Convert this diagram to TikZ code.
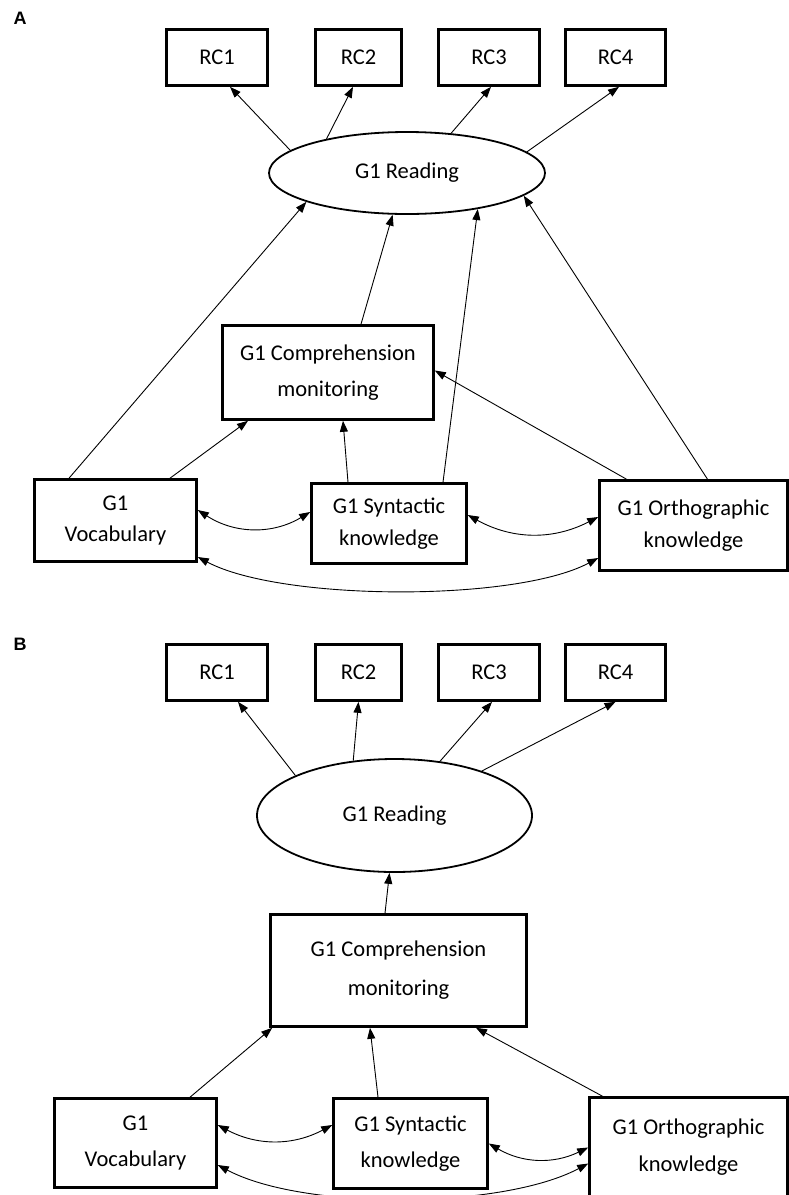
\documentclass[tikz,border=0pt]{standalone}
\usepackage{fontspec}
\setmainfont{Carlito}
\newfontfamily\panelfont{Liberation Sans}
\usetikzlibrary{shapes.geometric, arrows.meta}
\newcommand{\nodefont}{\fontsize{22.5}{32}\selectfont}

\begin{document}
\begin{tikzpicture}[x=1pt, y=-1pt, >={Triangle[length=11pt, width=8pt]},
  box/.style={draw, line width=2.6pt, inner sep=0pt, align=center, font=\nodefont},
  oval/.style={draw, ellipse, line width=1.8pt, inner sep=0pt, font=\nodefont},
  arr/.style={->, line width=0.9pt},
  both/.style={<->, line width=0.9pt},
  panel/.style={font=\panelfont\bfseries\fontsize{18}{18}\selectfont, inner sep=0pt}]
  \useasboundingbox (0,0) rectangle (789,1195);
  \fill [white] (0,0) rectangle (789,1195);
  \clip (0,0) rectangle (789,1195);

  % panel A
  \node[panel] (labA) at (20,18.5) {A};

  \node[box, minimum width=101pt, minimum height=56pt] (rc1a) at (217,57.5) {RC1};
  \node[box, minimum width=86pt, minimum height=56pt] (rc2a) at (358.5,57.5) {RC2};
  \node[box, minimum width=101pt, minimum height=56pt] (rc3a) at (489,57.5) {RC3};
  \node[box, minimum width=100pt, minimum height=56pt] (rc4a) at (615.5,57.5) {RC4};

  \node[oval, minimum width=276pt, minimum height=82pt] (rda) at (407,173) {G1 Reading};

  \node[box, minimum width=211pt, minimum height=94pt] (cma) at (328,372.5)
    {G1 Comprehension\\[4pt]monitoring};
  \node[box, minimum width=162pt, minimum height=82pt] (voca) at (115.5,520.5)
    {G1\\[-1pt]Vocabulary};
  \node[box, minimum width=155pt, minimum height=80pt] (syna) at (389,523.5)
    {G1 Syntactic\\knowledge};
  \node[box, minimum width=188pt, minimum height=90pt] (orta) at (693.5,525.5)
    {G1 Orthographic\\knowledge};

  \draw[arr] (rda.169) -- ([xshift=13pt]rc1a.south);
  \draw[arr] (rda.157) -- ([xshift=-5.5pt]rc2a.south);
  \draw[arr] (rda.42) -- ([xshift=2pt]rc3a.south);
  \draw[arr] (rda.10) -- ([xshift=3.5pt]rc4a.south);

  \draw[arr] ([xshift=-46.5pt]voca.north) -- (rda.196);
  \draw[arr] ([xshift=33pt]cma.north) -- (rda.251);
  \draw[arr] ([xshift=54pt]syna.north) -- (rda.333);
  \draw[arr] ([xshift=14pt]orta.north) -- (rda.349);

  \draw[arr] ([xshift=54.5pt]voca.north) -- ([xshift=-80pt]cma.south);
  \draw[arr] ([xshift=-41pt]syna.north) -- ([xshift=15pt]cma.south);
  \draw[arr] ([xshift=-67pt]orta.north) -- ([yshift=2pt]cma.east);

  \draw[both] ([yshift=10.5pt]voca.east) to[bend right=32] ([yshift=11.5pt]syna.west);
  \draw[both] ([yshift=8.5pt]syna.east) to[bend right=28] ([yshift=8.5pt]orta.west);
  \draw[both] ([yshift=-36.5pt]voca.east) to[out=-28, in=-152, looseness=0.6]
    ([yshift=-32.5pt]orta.west);

  % panel B
  \node[panel] (labB) at (20,644.5) {B};

  \node[box, minimum width=101pt, minimum height=56pt] (rc1b) at (217,672.5) {RC1};
  \node[box, minimum width=86pt, minimum height=56pt] (rc2b) at (358.5,672.5) {RC2};
  \node[box, minimum width=101pt, minimum height=56pt] (rc3b) at (489,672.5) {RC3};
  \node[box, minimum width=100pt, minimum height=56pt] (rc4b) at (615.5,672.5) {RC4};

  \node[oval, minimum width=275pt, minimum height=113pt] (rdb) at (394.5,815.5) {G1 Reading};

  \node[box, minimum width=256pt, minimum height=112pt] (cmb) at (398.5,970.5)
    {G1 Comprehension\\[7pt]monitoring};
  \node[box, minimum width=162pt, minimum height=89pt] (vocb) at (135.5,1143)
    {G1\\[4pt]Vocabulary};
  \node[box, minimum width=154pt, minimum height=90pt] (synb) at (410.5,1143.5)
    {G1 Syntactic\\[4pt]knowledge};
  \node[box, minimum width=198pt, minimum height=100pt] (ortb) at (688.5,1147.5)
    {G1 Orthographic\\[5pt]knowledge};

  \draw[arr] (rdb.158) -- ([xshift=21pt]rc1b.south);
  \draw[arr] (rdb.127) -- (rc2b.south);
  \draw[arr] (rdb.50) -- ([xshift=3pt]rc3b.south);
  \draw[arr] (rdb.27) -- (rc4b.south);

  \draw[arr] ([xshift=-13.5pt]cmb.north) -- (rdb.265);

  \draw[arr] ([xshift=54.5pt]vocb.north) -- ([xshift=3pt]cmb.south west);
  \draw[arr] ([xshift=-32.5pt]synb.north) -- ([xshift=-28.5pt]cmb.south);
  \draw[arr] ([xshift=-86pt]ortb.north) -- ([xshift=77.5pt]cmb.south);

  \draw[both] ([yshift=18pt]vocb.east) to[bend right=28] ([yshift=18.5pt]synb.west);
  \draw[both] (synb.east) to[bend right=28] (ortb.west);
  \draw[both] ([yshift=-22pt]vocb.east) to[out=-28, in=-152, looseness=0.67]
    ([yshift=-16pt]ortb.west);

\end{tikzpicture}
\end{document}
